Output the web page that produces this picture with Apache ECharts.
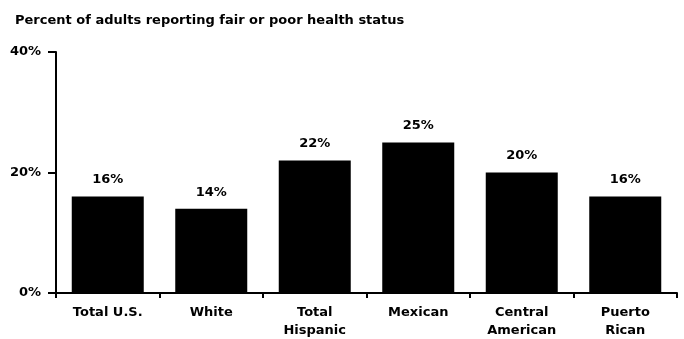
<!DOCTYPE html>
<html>
<head>
<meta charset="utf-8">
<script src="https://cdn.jsdelivr.net/npm/echarts@6/dist/echarts.min.js"></script>
<style>
  html, body { margin: 0; padding: 0; background: #fff; }
  #chart { width: 684px; height: 339px; }
</style>
</head>
<body>
<div id="chart"></div>
<script>
// categories and values
var categories = ['Total U.S.', 'White', 'Total\nHispanic', 'Mexican', 'Central\nAmerican', 'Puerto\nRican'];
var percentFairPoor = [16, 14, 22, 25, 20, 16];
var yTicks = [0, 20, 40];

var chart = echarts.init(document.getElementById('chart'));
var fontFam = '"DejaVu Sans", sans-serif';

chart.setOption({
    animation: false,
    title: {
        text: 'Percent of adults reporting fair or poor health status',
        left: 10,
        top: 9,
        textStyle: { fontFamily: fontFam, fontSize: 13, fontWeight: 'bold', color: '#000' }
    },
    // keep the plot box fixed, labels may run to the page edge
    grid: { left: 56, right: 7, top: 52, bottom: 46, outerBoundsMode: 'none' },
    xAxis: {
        type: 'category',
        data: categories,
        axisLine: { lineStyle: { color: '#000', width: 2 } },
        axisTick: { show: true, length: 5, lineStyle: { color: '#000', width: 2 } },
        axisLabel: {
            margin: 11,
            interval: 0,
            color: '#000',
            fontFamily: fontFam,
            fontSize: 13,
            fontWeight: 'bold',
            lineHeight: 18
        }
    },
    yAxis: {
        type: 'value',
        min: yTicks[0],
        max: yTicks[yTicks.length - 1],
        interval: 20,
        splitLine: { show: false },
        axisLine: { show: true, lineStyle: { color: '#000', width: 2 } },
        axisTick: { show: true, length: 8, lineStyle: { color: '#000', width: 2 } },
        axisLabel: {
            margin: 15,
            color: '#000',
            fontFamily: fontFam,
            fontSize: 13,
            fontWeight: 'bold',
            formatter: '{value}%'
        }
    },
    series: [{
        type: 'bar',
        data: percentFairPoor,
        barWidth: 72,
        itemStyle: { color: '#000' },
        label: {
            show: true,
            position: 'top',
            distance: 10,
            formatter: '{c}%',
            color: '#000',
            fontFamily: fontFam,
            fontSize: 13,
            fontWeight: 'bold'
        }
    }]
});
</script>
</body>
</html>
